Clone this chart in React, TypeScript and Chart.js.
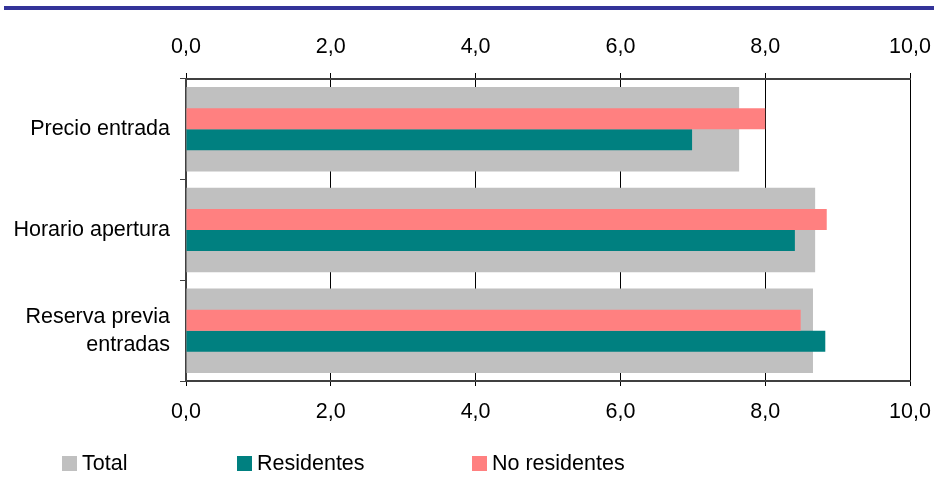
import React, { useEffect, useRef } from "react";
import { Chart, registerables } from "chart.js";

Chart.register(...registerables);

const categories: (string | string[])[] = [
  "Precio entrada",
  "Horario apertura",
  ["Reserva previa", "entradas"],
];
const totalValues = [7.64, 8.69, 8.66];
const noResidentesValues = [8.0, 8.85, 8.49];
const residentesValues = [6.99, 8.41, 8.83];
const axisMin = 0;
const axisMax = 10;
const axisStep = 2;

const seriesNames = { total: "Total", res: "Residentes", nores: "No residentes" };
const colors = { total: "#C0C0C0", res: "#008080", nores: "#FF8080" };

const FONT = "'Liberation Sans', Arial, sans-serif";
const FS = 21.5;
const fmt = (v: any) => Number(v).toFixed(1).replace(".", ",");

export default function App() {
  const ref = useRef<HTMLCanvasElement | null>(null);

  useEffect(() => {
    if (!ref.current) return;
    const chart = new Chart(ref.current, {
      type: "bar",
      data: {
        labels: categories as any,
        datasets: [
          {
            label: seriesNames.total,
            data: totalValues,
            backgroundColor: colors.total,
            yAxisID: "y",
            xAxisID: "x",
            order: 2,
            grouped: false,
            barPercentage: 0.84,
            categoryPercentage: 1,
          },
          {
            label: seriesNames.nores,
            data: noResidentesValues,
            backgroundColor: colors.nores,
            yAxisID: "y",
            xAxisID: "x",
            order: 0,
            barPercentage: 1,
            categoryPercentage: 0.417,
          },
          {
            label: seriesNames.res,
            data: residentesValues,
            backgroundColor: colors.res,
            yAxisID: "y",
            xAxisID: "x",
            order: 0,
            barPercentage: 1,
            categoryPercentage: 0.417,
          },
        ],
      },
      options: {
        indexAxis: "y",
        responsive: false,
        animation: false,
        layout: { padding: { left: 0, right: 24, top: 0, bottom: 0 } },
        plugins: { legend: { display: false }, tooltip: { enabled: false } },
        scales: {
          x: {
            type: "linear",
            position: "bottom",
            min: axisMin,
            max: axisMax,
            ticks: {
              stepSize: axisStep,
              callback: fmt,
              color: "#000",
              font: { family: FONT, size: FS },
              padding: 13,
            },
            grid: { color: "#000", lineWidth: 1, tickLength: 5 },
            border: { color: "#404040", width: 2 },
            afterFit: (s: any) => {
              s.height = 96;
              s.paddingLeft = 0;
              s.paddingRight = 0;
            },
          },
          x2: {
            type: "linear",
            position: "top",
            min: axisMin,
            max: axisMax,
            ticks: {
              stepSize: axisStep,
              callback: fmt,
              color: "#000",
              font: { family: FONT, size: FS },
              padding: 13,
            },
            grid: { color: "#000", lineWidth: 1, tickLength: 6, drawOnChartArea: false },
            border: { color: "#404040", width: 2 },
            afterFit: (s: any) => {
              s.height = 79;
              s.paddingLeft = 0;
              s.paddingRight = 0;
            },
          },
          y: {
            type: "category",
            position: "left",
            offset: true,
            ticks: {
              color: "#000",
              font: { family: FONT, size: FS, lineHeight: 1.3 },
              padding: 10,
            },
            grid: { offset: true, color: "#404040", tickLength: 6, drawOnChartArea: false },
            border: { color: "#404040", width: 2 },
            afterFit: (s: any) => {
              s.width = 186;
              s.paddingTop = 0;
              s.paddingBottom = 0;
            },
          },
        },
      } as any,
    });
    return () => chart.destroy();
  }, []);

  const legendItems = [
    { name: seriesNames.total, color: colors.total, x: 62 },
    { name: seriesNames.res, color: colors.res, x: 237 },
    { name: seriesNames.nores, color: colors.nores, x: 472 },
  ];

  return (
    <div style={{ position: "fixed", left: 0, top: 0, width: 934, height: 477, background: "#fff" }}>
      <canvas ref={ref} width={934} height={477} style={{ position: "absolute", left: 0, top: 0 }} />
      <div style={{ position: "absolute", left: 4, top: 6, width: 930, height: 4, background: "#333399" }} />
      {legendItems.map((it) => (
        <div
          key={it.name}
          style={{
            position: "absolute",
            left: it.x,
            top: 451,
            height: 24,
            display: "flex",
            alignItems: "center",
            fontFamily: FONT,
            fontSize: FS,
            color: "#000",
            whiteSpace: "nowrap",
          }}
        >
          <span style={{ display: "inline-block", width: 15, height: 15, background: it.color, marginRight: 5 }} />
          <span>{it.name}</span>
        </div>
      ))}
    </div>
  );
}
